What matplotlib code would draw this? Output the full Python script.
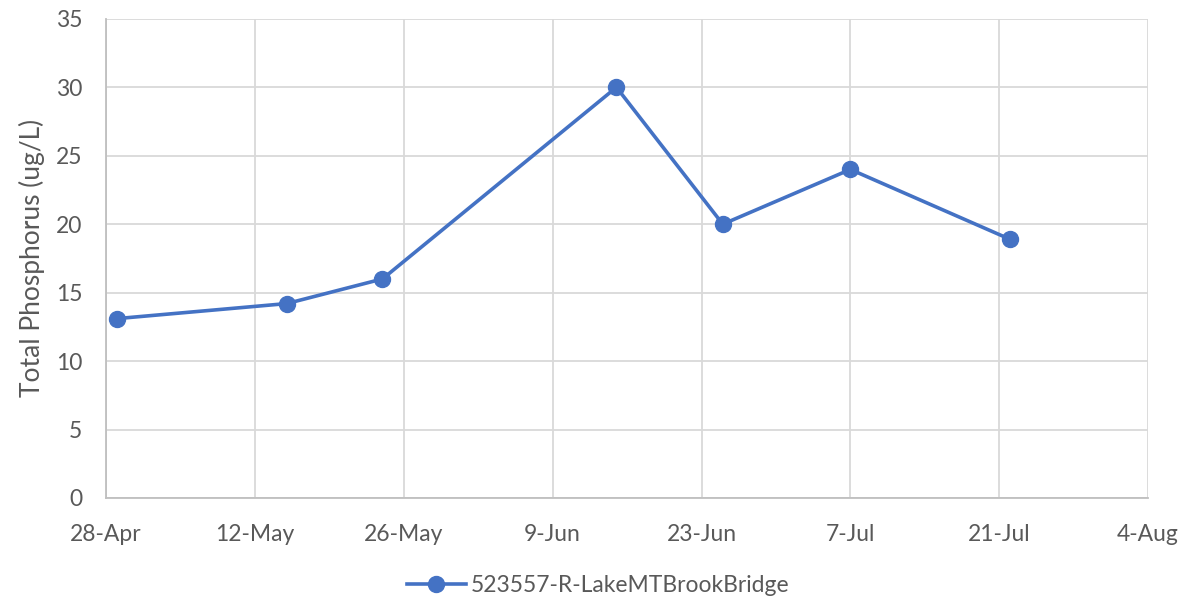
import datetime as dt
import matplotlib
matplotlib.use("Agg")
import matplotlib.pyplot as plt
import matplotlib.dates as mdates

# sampling dates and total phosphorus readings
dates = ["2021-04-29", "2021-05-15", "2021-05-24", "2021-06-15",
         "2021-06-25", "2021-07-07", "2021-07-22"]
tp = [13.1, 14.2, 16.0, 30.0, 20.0, 24.0, 18.9]
site = "523557-R-LakeMTBrookBridge"

x = [dt.datetime.strptime(d, "%Y-%m-%d") for d in dates]
blue = "#4472C4"
txt = "#595959"

plt.rcParams["font.family"] = ["Lato", "DejaVu Sans"]

fig = plt.figure(figsize=(11.96, 6.08), dpi=100)
ax = fig.add_axes([0.0886, 0.181, 0.8714, 0.788])

ax.plot(x, tp, color=blue, linewidth=2.6, marker="o", markersize=11.5,
        label=site, zorder=3)

start = dt.datetime(2021, 4, 28)
ax.set_xlim(start, dt.datetime(2021, 8, 4))
ax.set_ylim(0, 35)
ax.set_yticks(range(0, 36, 5))
ax.set_xticks([start + dt.timedelta(days=14 * i) for i in range(8)])
ax.xaxis.set_major_formatter(mdates.DateFormatter("%-d-%b"))

ax.grid(True, color="#d9d9d9", linewidth=1.3)
ax.set_axisbelow(True)
for s in ["top", "right"]:
    ax.spines[s].set_visible(False)
for s in ["left", "bottom"]:
    ax.spines[s].set_color("#bfbfbf")
    ax.spines[s].set_linewidth(1.3)

ax.tick_params(length=0, colors=txt, labelsize=16.5)
ax.tick_params(axis="y", pad=17)
ax.tick_params(axis="x", pad=19)

ax.set_ylabel("Total Phosphorus (ug/L)", fontsize=19, color=txt, labelpad=8)

leg = fig.legend(loc="center", bbox_to_anchor=(0.5, 1 - 586 / 608),
                 frameon=False, handlelength=2.6, handletextpad=0.2,
                 fontsize=16.5)
for t in leg.get_texts():
    t.set_color(txt)

fig.savefig("out.png", dpi=100)
